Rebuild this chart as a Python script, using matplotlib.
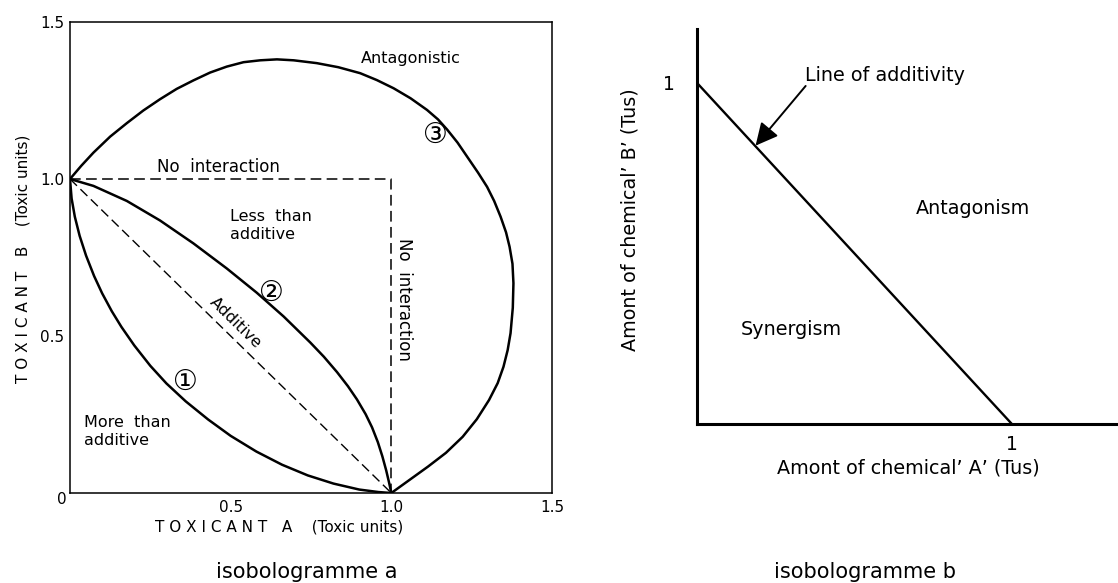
import matplotlib
matplotlib.use("Agg")
import matplotlib.pyplot as plt

# --- isobologramme a: curves (toxic units) ---
curve1_x = [0.0, 0.005, 0.015, 0.03, 0.05, 0.075, 0.1, 0.13, 0.16, 0.2, 0.25, 0.3, 0.36, 0.43,
            0.5, 0.58, 0.66, 0.74, 0.82, 0.9, 0.96, 1.0]
curve1_y = [1.0, 0.938, 0.880, 0.819, 0.756, 0.691, 0.636, 0.579, 0.529, 0.470, 0.405, 0.349, 0.292, 0.234,
            0.182, 0.132, 0.090, 0.056, 0.030, 0.011, 0.003, 0.0]

curve2_x = [0.0, 0.03, 0.073, 0.177, 0.280, 0.384, 0.488, 0.581, 0.665, 0.748, 0.790, 0.831, 0.865,
            0.893, 0.920, 0.940, 0.958, 0.972, 0.984, 0.993, 1.0]
curve2_y = [1.0, 0.991, 0.978, 0.930, 0.868, 0.795, 0.715, 0.638, 0.562, 0.479, 0.434, 0.385, 0.340,
            0.298, 0.251, 0.209, 0.162, 0.117, 0.072, 0.033, 0.0]

curve3_x = [0.0, 0.035, 0.073, 0.125, 0.177, 0.228, 0.280, 0.332, 0.384, 0.436, 0.488, 0.540, 0.592,
            0.644, 0.696, 0.768, 0.835, 0.903, 0.955, 1.007, 1.060, 1.111, 1.145, 1.174, 1.206, 1.236,
            1.270, 1.298, 1.320, 1.340, 1.357, 1.368, 1.377, 1.380, 1.378, 1.371, 1.362, 1.349, 1.331,
            1.304, 1.266, 1.222, 1.170, 1.114, 1.057, 1.0]
curve3_y = [1.0, 1.042, 1.084, 1.135, 1.178, 1.218, 1.254, 1.287, 1.314, 1.339, 1.358, 1.372, 1.378,
            1.381, 1.378, 1.369, 1.356, 1.337, 1.315, 1.289, 1.257, 1.220, 1.190, 1.157, 1.116, 1.071,
            1.020, 0.975, 0.930, 0.880, 0.830, 0.784, 0.730, 0.668, 0.590, 0.509, 0.455, 0.402, 0.350,
            0.296, 0.235, 0.179, 0.128, 0.084, 0.042, 0.0]

no_interaction_x = [0.0, 1.0, 1.0]
no_interaction_y = [1.0, 1.0, 0.0]
additive_x = [0.0, 1.0]
additive_y = [1.0, 0.0]

a_ticks = [0.5, 1.0, 1.5]
a_ticklabels = ["0.5", "1.0", "1.5"]

# --- isobologramme b ---
additivity_x = [0.0, 1.0]
additivity_y = [1.0, 0.0]

fig = plt.figure(figsize=(11.18, 5.83), dpi=100)
plt.rcParams['font.family'] = ['DejaVu Sans', 'Noto Sans CJK SC']
circ = ['DejaVu Sans', 'Noto Sans CJK SC']

# ---------------- panel a ----------------
ax = fig.add_axes([70 / 1118, 1 - 493 / 583, 482 / 1118, 471 / 583])
ax.set_xlim(0, 1.5)
ax.set_ylim(0, 1.5)
for s in ax.spines.values():
    s.set_linewidth(1.1)

ax.plot(curve1_x, curve1_y, color='k', lw=1.8)
ax.plot(curve2_x, curve2_y, color='k', lw=1.8)
ax.plot(curve3_x, curve3_y, color='k', lw=1.8)
ax.plot(no_interaction_x, no_interaction_y, color='k', lw=1.1, dashes=(7, 3.5))
ax.plot(additive_x, additive_y, color='k', lw=1.0, dashes=(7, 3.5))

ax.set_xticks(a_ticks)
ax.set_xticklabels(a_ticklabels)
ax.set_yticks(a_ticks)
ax.set_yticklabels(a_ticklabels)
ax.tick_params(which='major', length=0, labelsize=11)
ax.tick_params(axis='x', which='major', pad=5)
ax.tick_params(axis='y', which='major', pad=4)
ax.set_xticks([0.5], minor=True)
ax.set_yticks([0.5], minor=True)
ax.tick_params(which='minor', direction='in', length=11, width=1.1)
ax.text(-0.025, -0.02, "0", ha='center', va='center', fontsize=11)

ax.text(1.061, 1.384, "Antagonistic", ha='center', va='center', fontsize=11.5)
ax.text(1.137, 1.140, "\u2462", ha='center', va='center', fontsize=20, family=circ)
ax.text(0.462, 1.039, "No  interaction", ha='center', va='center', fontsize=12)
ax.text(0.498, 0.853, "Less  than\nadditive", ha='left', va='center', fontsize=11.5, linespacing=1.25)
ax.text(1.038, 0.615, "No  interaction", ha='center', va='center', fontsize=12, rotation=-90)
ax.text(0.627, 0.637, "\u2461", ha='center', va='center', fontsize=20, family=circ)
ax.text(0.516, 0.541, "Additive", ha='center', va='center', fontsize=11.5, rotation=-45,
        transform_rotates_text=True, rotation_mode='anchor')
ax.text(0.358, 0.355, "\u2460", ha='center', va='center', fontsize=20, family=circ)
ax.text(0.044, 0.195, "More  than\nadditive", ha='left', va='center', fontsize=11.5, linespacing=1.25)

fig.text(279 / 1118, 1 - 527 / 583, "T O X I C A N T   A    (Toxic units)", ha='center', va='center', fontsize=11)
fig.text(23 / 1118, 1 - 259 / 583, "T O X I C A N T   B    (Toxic units)", ha='center', va='center',
         fontsize=11, rotation=90)
fig.text(307 / 1118, 1 - 572 / 583, "isobologramme a", ha='center', va='center', fontsize=15)

# ---------------- panel b ----------------
bx = fig.add_axes([697 / 1118, 1 - 424 / 583, 421 / 1118, 395 / 583])
bx.set_xlim(0, 1.337)
bx.set_ylim(0, 1.158)
bx.spines['top'].set_visible(False)
bx.spines['right'].set_visible(False)
bx.spines['left'].set_linewidth(2.2)
bx.spines['bottom'].set_linewidth(2.2)
bx.plot(additivity_x, additivity_y, color='k', lw=1.7, solid_capstyle='butt')
bx.set_xticks([1])
bx.set_xticklabels(["1"])
bx.set_yticks([1])
bx.set_yticklabels(["1"])
bx.tick_params(length=0, labelsize=13.5)
bx.tick_params(axis='x', pad=8)
bx.tick_params(axis='y', pad=16)

bx.annotate("", xy=(0.186, 0.816), xytext=(0.345, 0.991),
            arrowprops=dict(arrowstyle='-|>', color='k', lw=1.4, mutation_scale=34,
                            shrinkA=0, shrinkB=0))
bx.text(0.342, 1.023, "Line of additivity", ha='left', va='center', fontsize=13.8)
bx.text(0.695, 0.633, "Antagonism", ha='left', va='center', fontsize=13.8)
bx.text(0.138, 0.276, "Synergism", ha='left', va='center', fontsize=13.8)

fig.text(908 / 1118, 1 - 468 / 583, "Amont of chemical\u2019 A\u2019 (Tus)", ha='center', va='center', fontsize=13.8)
fig.text(630 / 1118, 1 - 220 / 583, "Amont of chemical\u2019 B\u2019 (Tus)", ha='center', va='center',
         fontsize=13.8, rotation=90)
fig.text(865 / 1118, 1 - 572 / 583, "isobologramme b", ha='center', va='center', fontsize=15)

fig.savefig("out.png", dpi=100)
